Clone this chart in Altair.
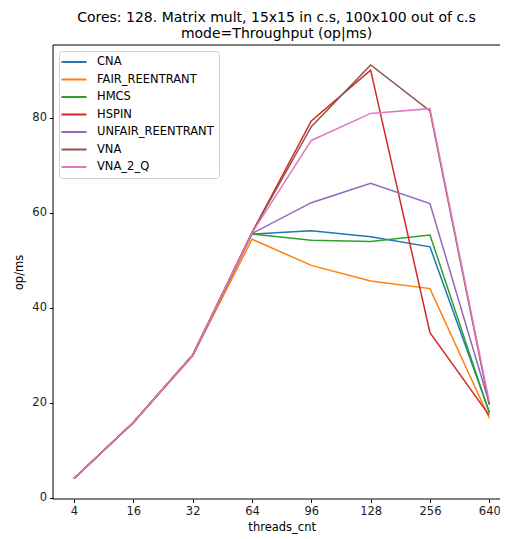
import altair as alt
import pandas as pd

threads = ["4", "16", "32", "64", "96", "128", "256", "640"]
series_names = ["CNA", "FAIR_REENTRANT", "HMCS", "HSPIN", "UNFAIR_REENTRANT", "VNA", "VNA_2_Q"]
cna = [4.0, 15.8, 30.0, 55.5, 56.2, 54.9, 52.8, 18.0]
fair = [4.0, 15.8, 29.8, 54.4, 48.9, 45.6, 44.0, 16.7]
hmcs = [4.0, 15.8, 30.0, 55.5, 54.2, 53.9, 55.3, 17.8]
hspin = [4.0, 15.8, 30.0, 55.8, 79.3, 90.0, 34.7, 17.3]
unfair = [4.0, 15.8, 30.0, 55.6, 62.1, 66.2, 61.9, 19.8]
vna = [4.0, 15.8, 30.0, 55.8, 78.1, 91.1, 81.4, 19.5]
vna2q = [4.0, 15.8, 30.0, 55.7, 75.2, 80.9, 81.9, 20.1]
colors = ["#1f77b4", "#ff7f0e", "#2ca02c", "#d62728", "#9467bd", "#8c564b", "#e377c2"]

all_vals = [cna, fair, hmcs, hspin, unfair, vna, vna2q]
rows = []
for name, vals in zip(series_names, all_vals):
    for i, (t, v) in enumerate(zip(threads, vals)):
        rows.append({"threads_cnt": t, "value": v, "lock": name, "idx": i})
df = pd.DataFrame(rows)

FONT = "DejaVu Sans"
W, H = 447, 454
FS = 11.5

lines = alt.Chart(df).mark_line(strokeWidth=1.5).encode(
    x=alt.X("threads_cnt:O", sort=threads, title="threads_cnt",
            scale=alt.Scale(type="point", padding=0, range=[21, 436.3]),
            axis=alt.Axis(labelAngle=0, domain=False, tickSize=3.5, tickColor="#000",
                          labelFontSize=FS, labelColor="#222", labelPadding=3,
                          titleFontSize=FS, titleFontWeight="normal", titleColor="#000",
                          titlePadding=4, grid=False)),
    y=alt.Y("value:Q", title="op/ms",
            scale=alt.Scale(domain=[-0.3, 95.3], nice=False, zero=False),
            axis=alt.Axis(values=[0, 20, 40, 60, 80], domain=False, tickSize=3.5, tickColor="#000",
                          labelFontSize=FS, labelColor="#222", labelPadding=3,
                          titleFontSize=FS, titleFontWeight="normal", titleColor="#000",
                          titlePadding=7, grid=False)),
    color=alt.Color("lock:N", sort=series_names, title=None,
                    scale=alt.Scale(domain=series_names, range=colors),
                    legend=alt.Legend(orient="none", legendX=6, legendY=6,
                                      symbolType="M-2.5,0H2.5", symbolSize=100, symbolStrokeWidth=2,
                                      symbolOffset=4,
                                      labelFontSize=FS, labelColor="#000", labelOffset=17,
                                      fillColor="white", strokeColor="#d0d0d0", cornerRadius=3,
                                      padding=5, rowPadding=5.5)),
    order=alt.Order("idx:Q"),
)

frame_data = alt.Data(values=[{}])
top_rule = alt.Chart(frame_data).mark_rule(color="#000", strokeWidth=1).encode(
    x=alt.value(0), x2=alt.value(W), y=alt.value(0))
bottom_rule = alt.Chart(frame_data).mark_rule(color="#000", strokeWidth=1).encode(
    x=alt.value(0), x2=alt.value(W), y=alt.value(H))
left_rule = alt.Chart(frame_data).mark_rule(color="#000", strokeWidth=1).encode(
    x=alt.value(0), y=alt.value(0), y2=alt.value(H))

chart = alt.layer(lines, top_rule, bottom_rule, left_rule).properties(
    width=W,
    height=H,
    title=alt.TitleParams(
        ["Cores: 128. Matrix mult, 15x15 in c.s, 100x100 out of c.s", "mode=Throughput (op|ms)"],
        fontSize=14, fontWeight="normal", color="#000", lineHeight=16, offset=4, anchor="middle"),
    padding={"left": 45, "top": 37, "right": 0, "bottom": 35},
    autosize=alt.AutoSizeParams(type="none"),
).configure(font=FONT).configure_view(stroke=None)

chart.save("out.html", embed_options={"renderer": "svg", "actions": False})
